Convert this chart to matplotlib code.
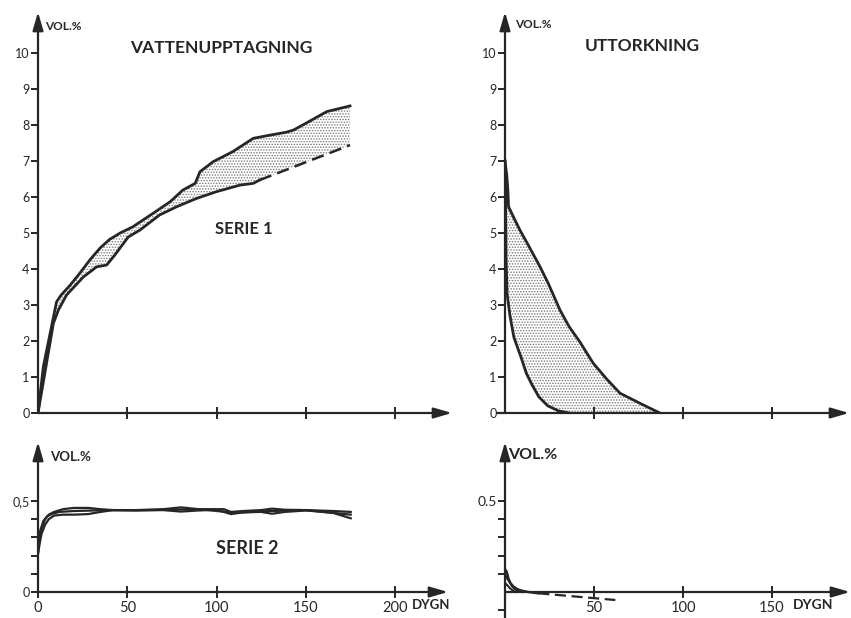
import matplotlib
matplotlib.use("Agg")
import matplotlib.pyplot as plt
import numpy as np

# ---------------- data ----------------
# Serie 1, water uptake (VATTENUPPTAGNING)
s1_up_days = [0, 3, 10.4, 13, 18, 23.5, 29, 34.7, 40, 46, 53, 64.5, 74, 81, 88, 90.6, 98, 109, 120.5, 130, 139, 143, 150, 161.5, 174.6]
s1_up_vals = [0, 1.29, 3.09, 3.28, 3.55, 3.89, 4.25, 4.58, 4.82, 5.0, 5.17, 5.55, 5.87, 6.19, 6.38, 6.70, 6.98, 7.26, 7.63, 7.72, 7.80, 7.86, 8.05, 8.37, 8.53]
s1_lo_days = [0, 8.6, 11.4, 16, 25.4, 32.8, 38.4, 43, 50.5, 57, 68, 77.6, 88.7, 100, 113, 120.5, 124]
s1_lo_vals = [0, 2.49, 2.86, 3.28, 3.78, 4.06, 4.11, 4.39, 4.89, 5.08, 5.50, 5.73, 5.96, 6.15, 6.33, 6.38, 6.47]
s1_lo_dash_days = [124, 174.6]
s1_lo_dash_vals = [6.47, 7.44]

# Serie 1, drying (UTTORKNING)
d1_out_days = [0, 1.0, 1.6, 2.0, 4.7, 8.4, 13, 19.7, 24.3, 30.9, 36, 42, 49.6, 57, 64.6, 75.8, 87]
d1_out_vals = [7.0, 6.6, 6.2, 5.73, 5.45, 5.08, 4.67, 4.06, 3.6, 2.86, 2.4, 1.98, 1.38, 0.95, 0.55, 0.27, 0]
d1_in_days = [0, 0.4, 0.4, 0.6, 1.2, 2.8, 5, 9, 12, 15, 19, 24, 30, 36]
d1_in_vals = [7.0, 6.3, 5.5, 4.3, 3.3, 2.7, 2.1, 1.55, 1.1, 0.8, 0.45, 0.2, 0.06, 0]

# Serie 2, water uptake
s2_days = [0, 1, 2, 4, 6, 9, 14, 20, 28, 35, 42, 55, 70, 80, 90, 100, 104, 108, 115, 125, 131, 138, 150, 165, 175]
s2_a_vals = [0.21, 0.30, 0.35, 0.40, 0.425, 0.44, 0.455, 0.462, 0.462, 0.455, 0.45, 0.45, 0.455, 0.465, 0.455,
             0.455, 0.455, 0.44, 0.445, 0.45, 0.458, 0.452, 0.45, 0.445, 0.44]
s2_b_vals = [0.21, 0.27, 0.32, 0.37, 0.40, 0.42, 0.425, 0.425, 0.428, 0.44, 0.45, 0.448, 0.45, 0.442, 0.448,
             0.452, 0.44, 0.428, 0.438, 0.44, 0.43, 0.44, 0.448, 0.435, 0.405]
s2_c_days = [0, 1, 3, 5, 8, 12, 20, 40, 60, 90, 110, 130, 150, 175]
s2_c_vals = [0.25, 0.33, 0.39, 0.415, 0.43, 0.44, 0.445, 0.45, 0.45, 0.455, 0.435, 0.445, 0.45, 0.425]

# Serie 2, drying
d2_a_days = [0, 1, 1.9, 3, 4.7, 7, 9.4, 13, 18.7]
d2_a_vals = [0.125, 0.11, 0.075, 0.05, 0.03, 0.015, 0.007, 0.0, -0.007]
d2_b_days = [0, 1.5, 2.8, 4, 5.6, 7.5, 9.4]
d2_b_vals = [0.095, 0.07, 0.05, 0.03, 0.015, 0.005, 0.0]
d2_c_days = [0, 1.5, 2.8, 4.5, 6]
d2_c_vals = [0.05, 0.035, 0.02, 0.007, 0.0]
d2_dash_days = [18.7, 62]
d2_dash_vals = [-0.007, -0.044]

top_yticks = [0, 1, 2, 3, 4, 5, 6, 7, 8, 9, 10]
tl_xticks = [50, 100, 150, 200]
tr_xticks = [50, 100, 150]
bl_xticks = [0, 50, 100, 150, 200]
bl_xlabels = ["0", "50", "100", "150", "200"]
bl_yticks = [0, 0.5]
bl_ylabels = ["0", "0,5"]
bl_minor_y = [0.1, 0.2, 0.3, 0.4]
br_xticks = [50, 100, 150]
br_xlabels = ["50", "100", "150"]
br_yticks = [0.5]
br_ylabels = ["0.5"]
br_minor_y = [-0.1, 0.1, 0.2, 0.3, 0.4]

# ---------------- style ----------------
W, H = 851, 618
INK = "#262626"
DOTS = "#7a7a7a"
plt.rcParams["font.family"] = ["Lato", "DejaVu Sans"]
plt.rcParams["hatch.color"] = DOTS
plt.rcParams["hatch.linewidth"] = 0.7

fig = plt.figure(figsize=(W / 100, H / 100), dpi=100)
fig.patch.set_facecolor("white")


def px_axes(left, right, top, bottom):
    return fig.add_axes([left / W, 1 - bottom / H, (right - left) / W, (bottom - top) / H])


ARROW = dict(arrowstyle="-|>,head_length=1.1,head_width=0.32",
             color=INK, lw=1.6, shrinkA=0, shrinkB=0)


def style_axes(ax, xzero=False, xstart=0.0):
    for s in ax.spines:
        ax.spines[s].set_visible(False)
    if xzero:
        ax.spines["bottom"].set_position(("data", 0))
    ax.set_facecolor("none")
    # axis lines with arrowheads
    ax.annotate("", xy=(1.0, 0), xytext=(xstart, 0),
                xycoords=ax.get_yaxis_transform(), textcoords=ax.get_yaxis_transform(),
                arrowprops=ARROW, annotation_clip=False)
    ax.annotate("", xy=(0, 1.0), xytext=(0, 0.0),
                xycoords=ax.get_xaxis_transform(), textcoords=ax.get_xaxis_transform(),
                arrowprops=ARROW, annotation_clip=False)
    ax.tick_params(axis="y", which="both", direction="out", length=5, width=1.4, color=INK,
                   labelsize=9, pad=1, labelcolor=INK)
    ax.tick_params(axis="x", direction="inout", length=9, width=1.4, color=INK,
                   labelsize=10.5, pad=2, labelcolor=INK)


# ---- top left ----
ax1 = px_axes(38, 452, 12, 413)
ax1.set_xlim(0, (452 - 38) / 1.787)
ax1.set_ylim(0, (413 - 12) / 36.0)
style_axes(ax1)
ax1.set_yticks(top_yticks)
ax1.set_xticks(tl_xticks)
ax1.set_xticklabels([])
poly_x = list(s1_up_days) + list(s1_lo_dash_days[::-1]) + list(s1_lo_days[::-1])
poly_y = list(s1_up_vals) + list(s1_lo_dash_vals[::-1]) + list(s1_lo_vals[::-1])
ax1.fill(poly_x, poly_y, facecolor="white", edgecolor=DOTS, hatch="......", lw=0)
ax1.plot(s1_up_days, s1_up_vals, color=INK, lw=2.0, solid_joinstyle="round")
ax1.plot(s1_lo_days, s1_lo_vals, color=INK, lw=2.0, solid_joinstyle="round")
ax1.plot(s1_lo_dash_days, s1_lo_dash_vals, color=INK, lw=1.8, dashes=(5, 2.5))

# ---- top right ----
ax2 = px_axes(505, 849, 12, 413)
ax2.set_xlim(0, (849 - 505) / 1.78)
ax2.set_ylim(0, (413 - 12) / 36.0)
style_axes(ax2, xstart=-8 / 344)
ax2.set_yticks(top_yticks)
ax2.set_xticks(tr_xticks)
ax2.set_xticklabels([])
poly_x = list(d1_out_days) + list(d1_in_days[::-1])
poly_y = list(d1_out_vals) + list(d1_in_vals[::-1])
ax2.fill(poly_x, poly_y, facecolor="white", edgecolor=DOTS, hatch="......", lw=0)
ax2.plot(d1_out_days, d1_out_vals, color=INK, lw=2.0, solid_joinstyle="round")
ax2.plot(d1_in_days, d1_in_vals, color=INK, lw=2.0, solid_joinstyle="round")

# ---- bottom left ----
ax3 = px_axes(38, 448, 442, 592)
ax3.set_xlim(0, (448 - 38) / 1.787)
ax3.set_ylim(0, 150 / 182.0)
style_axes(ax3)
ax3.set_xticks(bl_xticks)
ax3.set_xticklabels(bl_xlabels)
ax3.set_yticks(bl_yticks)
ax3.set_yticklabels(bl_ylabels)
ax3.set_yticks(bl_minor_y, minor=True)
ax3.plot(s2_days, s2_a_vals, color=INK, lw=1.6)
ax3.plot(s2_days, s2_b_vals, color=INK, lw=1.6)
ax3.plot(s2_c_days, s2_c_vals, color=INK, lw=1.6)

# ---- bottom right ----
ax4 = px_axes(505, 850, 442, 618)
ax4.set_xlim(0, (850 - 505) / 1.78)
ax4.set_ylim(-26 / 182.0, 150 / 182.0)
style_axes(ax4, xzero=True)
ax4.set_xticks(br_xticks)
ax4.set_xticklabels(br_xlabels)
ax4.set_yticks(br_yticks)
ax4.set_yticklabels(br_ylabels, fontsize=10)
ax4.set_yticks(br_minor_y, minor=True)
ax4.plot(d2_a_days, d2_a_vals, color=INK, lw=1.8)
ax4.plot(d2_b_days, d2_b_vals, color=INK, lw=1.5)
ax4.plot(d2_c_days, d2_c_vals, color=INK, lw=1.5)
ax4.plot(d2_dash_days, d2_dash_vals, color=INK, lw=1.6, dashes=(5, 2.5))


# ---- texts ----
def ftext(x, y, s, size, ha="left", weight="bold"):
    fig.text(x / W, 1 - y / H, s, fontsize=size, ha=ha, va="center",
             weight=weight, color=INK)


ftext(45, 27, "VOL.%", 8.5)
ftext(221, 48, "VATTENUPPTAGNING", 12.5, ha="center")
ftext(244, 229, "SERIE 1", 12, ha="center")
ftext(515, 25, "VOL.%", 8.5)
ftext(642, 46, "UTTORKNING", 12.5, ha="center")
ftext(50, 457, "VOL.%", 9.5)
ftext(247, 549, "SERIE 2", 13, ha="center")
ftext(508, 455, "VOL.%", 11.5)
ftext(412, 605, "DYGN", 9.5)
ftext(793, 605, "DYGN", 10)

fig.savefig("out.png", dpi=100, facecolor="white")
